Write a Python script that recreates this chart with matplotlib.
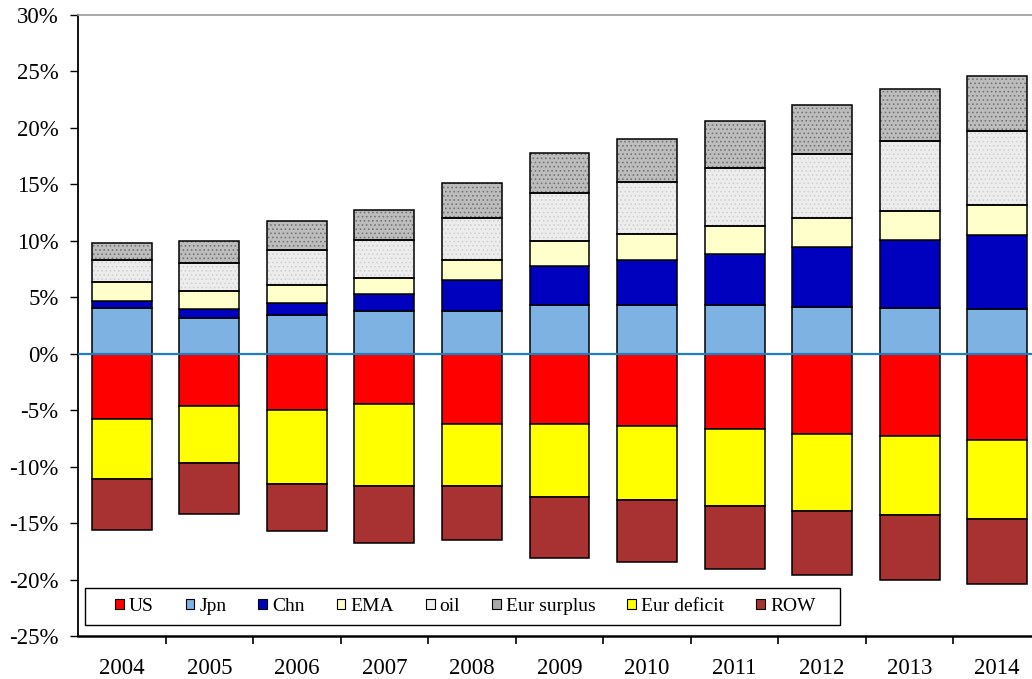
import matplotlib.pyplot as plt
import numpy as np
from matplotlib.patches import Patch, Rectangle
from matplotlib.ticker import FuncFormatter, FixedLocator

plt.rcParams['font.family'] = ['Liberation Serif', 'DejaVu Serif']
plt.rcParams['hatch.linewidth'] = 0.7

years = ['2004', '2005', '2006', '2007', '2008', '2009', '2010', '2011', '2012', '2013', '2014']

# positive side (% of ...), stacked from zero upwards
jpn = [4.05, 3.16, 3.46, 3.75, 3.81, 4.28, 4.28, 4.28, 4.17, 4.08, 3.99]
chn = [0.65, 0.83, 1.00, 1.54, 2.72, 3.52, 4.05, 4.59, 5.29, 6.00, 6.50]
ema = [1.66, 1.53, 1.66, 1.39, 1.78, 2.16, 2.28, 2.45, 2.57, 2.57, 2.66]
oil = [1.95, 2.49, 3.10, 3.40, 3.69, 4.31, 4.61, 5.11, 5.67, 6.17, 6.59]
eur_surplus = [1.47, 1.98, 2.51, 2.66, 3.10, 3.52, 3.81, 4.16, 4.35, 4.61, 4.84]

# negative side, stacked from zero downwards
us = [-5.76, -4.67, -4.96, -4.43, -6.18, -6.18, -6.38, -6.68, -7.09, -7.30, -7.60]
eur_deficit = [-5.35, -5.02, -6.59, -7.30, -5.55, -6.50, -6.56, -6.80, -6.80, -6.97, -7.00]
row = [-4.47, -4.52, -4.14, -5.00, -4.79, -5.38, -5.50, -5.58, -5.68, -5.79, -5.79]

fig = plt.figure(figsize=(10.32, 6.79), dpi=100)
ax = fig.add_axes([78 / 1032, 43 / 679, 963 / 1032, 621 / 679])

x = np.arange(len(years))
w = 0.685

# (label, values, face, hatch, hatch colour)
pos_series = [
    ('Jpn', jpn, '#7db2e3', None, None),
    ('Chn', chn, '#0000bf', None, None),
    ('EMA', ema, '#ffffcc', None, None),
    ('oil', oil, '#ededed', '....', '#d2d2d2'),
    ('Eur surplus', eur_surplus, '#bdbdbd', '....', '#767676'),
]
neg_series = [
    ('US', us, '#ff0000', None, None),
    ('Eur deficit', eur_deficit, '#ffff00', None, None),
    ('ROW', row, '#a83232', None, None),
]


def draw_stack(series):
    bottom = np.zeros(len(years))
    for label, vals, face, hatch, hcol in series:
        vals = np.array(vals)
        if hatch:
            ax.bar(x, vals, w, bottom=bottom, color=face, hatch=hatch,
                   edgecolor=hcol, linewidth=0, zorder=2)
            ax.bar(x, vals, w, bottom=bottom, fill=False, edgecolor='black',
                   linewidth=1.1, zorder=3)
        else:
            ax.bar(x, vals, w, bottom=bottom, color=face, edgecolor='black',
                   linewidth=1.1, zorder=3)
        bottom = bottom + vals


draw_stack(pos_series)
draw_stack(neg_series)

ax.axhline(0, color='#1f7fc0', linewidth=1.6, zorder=5)

ax.set_xlim(-0.5, len(years) - 0.5)
ax.set_ylim(-25, 30)
ax.set_yticks(np.arange(-25, 31, 5))
ax.yaxis.set_major_formatter(FuncFormatter(lambda v, p: '%d%%' % v))
ax.set_xticks(x)
ax.set_xticklabels(years)
ax.xaxis.set_minor_locator(FixedLocator(np.arange(0.5, len(years) - 1, 1.0)))
ax.tick_params(axis='x', which='major', length=0, pad=16, labelsize=16.5)
ax.tick_params(axis='x', which='minor', length=6, width=1.2, direction='out')
ax.tick_params(axis='y', length=6, width=1.0, direction='out', labelsize=16.5, pad=8)

ax.spines['top'].set_color('#9a9a9a')
ax.spines['top'].set_linewidth(1.2)
ax.spines['right'].set_visible(False)
ax.spines['left'].set_linewidth(1.3)
ax.spines['bottom'].set_linewidth(1.8)

# legend box drawn separately so the entries sit compactly inside a wider frame
ax.add_patch(Rectangle((0.0073, 0.0177), 0.784, 0.0596, transform=ax.transAxes,
                       facecolor='white', edgecolor='black', linewidth=1.0, zorder=6))

legend_items = [
    ('US', '#ff0000'), ('Jpn', '#7db2e3'), ('Chn', '#0000bf'), ('EMA', '#ffffcc'),
    ('oil', '#ededed'), ('Eur surplus', '#a9a9a9'), ('Eur deficit', '#ffff00'),
    ('ROW', '#a83232'),
]
handles = [Patch(facecolor=c, edgecolor='black', linewidth=0.8, label=l) for l, c in legend_items]
leg = ax.legend(handles=handles, ncol=8, loc='center', bbox_to_anchor=(0.402, 0.0475),
                fontsize=14, handlelength=0.45, handleheight=0.45, handletextpad=0.25,
                frameon=False, columnspacing=1.65, borderaxespad=0, borderpad=0)
leg.set_zorder(7)

fig.savefig('out.png', dpi=100)
